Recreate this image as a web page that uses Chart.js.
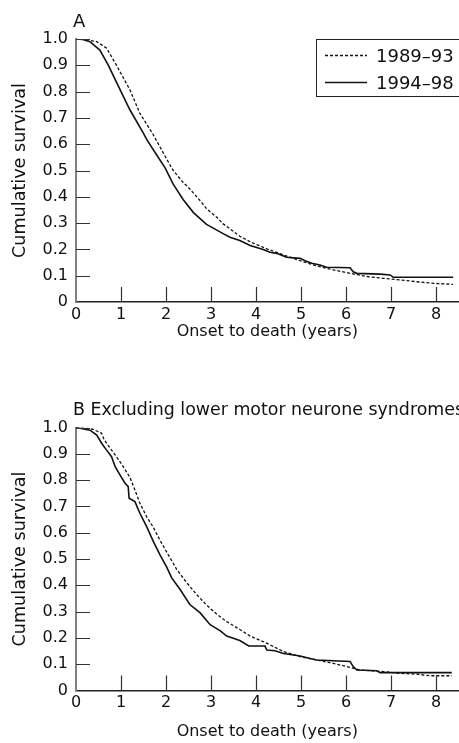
<!DOCTYPE html>
<html>
<head>
<meta charset="utf-8">
<script src="https://cdn.jsdelivr.net/npm/chart.js@4.4.1/dist/chart.umd.min.js"></script>
<style>
  html, body { margin: 0; padding: 0; background: #fff; }
  #wrap { position: relative; width: 459px; height: 743px; overflow: hidden; }
  .panel { position: absolute; left: 0; width: 459px; }
  #panelA { top: 0; height: 360px; }
  #panelB { top: 360px; height: 383px; }
</style>
</head>
<body>
<div id="wrap">
  <div class="panel" id="panelA"><canvas id="chartA"></canvas></div>
  <div class="panel" id="panelB"><canvas id="chartB"></canvas></div>
</div>
<script>
// --- données (survie cumulée vs années depuis le début) ---
const SERIES_LABELS = ['1989–93', '1994–98'];
const X_TICKS = [0, 1, 2, 3, 4, 5, 6, 7, 8];
const Y_TICK_LABELS = ['0', '0.1', '0.2', '0.3', '0.4', '0.5', '0.6', '0.7', '0.8', '0.9', '1.0'];

// Panneau A
const A_T_8993 = [0, 0.2, 0.46, 0.68, 0.9, 1.2, 1.42, 1.72, 2.0, 2.16, 2.38, 2.53, 2.76, 2.9, 3.13, 3.27, 3.42, 3.64, 3.87, 4.24, 4.61, 4.98, 5.35, 5.72, 6.09, 6.46, 6.83, 7.2, 7.57, 7.94, 8.38];
const A_S_8993 = [1.0, 0.998, 0.99, 0.965, 0.90, 0.806, 0.717, 0.635, 0.548, 0.50, 0.455, 0.43, 0.385, 0.355, 0.322, 0.297, 0.278, 0.25, 0.229, 0.202, 0.179, 0.157, 0.137, 0.122, 0.109, 0.097, 0.090, 0.084, 0.077, 0.071, 0.067];
const A_T_9498 = [0, 0.15, 0.31, 0.53, 0.72, 1.0, 1.2, 1.5, 1.57, 1.79, 1.98, 2.16, 2.38, 2.61, 2.9, 3.27, 3.42, 3.64, 3.87, 4.16, 4.31, 4.46, 4.68, 4.98, 5.09, 5.24, 5.42, 5.57, 6.09, 6.16, 6.24, 6.76, 6.98, 7.05, 8.38];
const A_S_9498 = [1.0, 0.998, 0.99, 0.958, 0.90, 0.80, 0.73, 0.641, 0.618, 0.56, 0.51, 0.448, 0.39, 0.34, 0.295, 0.26, 0.246, 0.234, 0.215, 0.200, 0.189, 0.185, 0.170, 0.166, 0.157, 0.147, 0.141, 0.132, 0.130, 0.115, 0.109, 0.106, 0.103, 0.094, 0.094];

// Panneau B (sans syndromes du motoneurone inférieur)
const B_T_8993 = [0, 0.2, 0.38, 0.57, 0.63, 0.76, 0.9, 1.05, 1.2, 1.31, 1.42, 1.57, 1.72, 1.87, 2.01, 2.24, 2.46, 2.68, 2.9, 3.13, 3.35, 3.64, 3.87, 4.24, 4.61, 4.98, 5.35, 5.72, 6.09, 6.31, 6.83, 7.2, 7.57, 7.87, 8.35];
const B_S_8993 = [1.0, 0.998, 0.993, 0.978, 0.952, 0.921, 0.889, 0.851, 0.81, 0.762, 0.712, 0.661, 0.62, 0.57, 0.528, 0.46, 0.41, 0.365, 0.325, 0.29, 0.262, 0.232, 0.207, 0.18, 0.148, 0.129, 0.116, 0.103, 0.088, 0.078, 0.072, 0.065, 0.062, 0.056, 0.056];
const B_T_9498 = [0, 0.31, 0.46, 0.57, 0.68, 0.79, 0.87, 0.98, 1.09, 1.16, 1.18, 1.31, 1.42, 1.57, 1.72, 1.87, 2.01, 2.13, 2.31, 2.53, 2.76, 2.98, 3.2, 3.35, 3.64, 3.84, 4.2, 4.24, 4.42, 4.61, 4.98, 5.2, 5.35, 6.09, 6.16, 6.24, 6.68, 6.76, 8.35];
const B_S_9498 = [1.0, 0.99, 0.971, 0.94, 0.914, 0.889, 0.851, 0.819, 0.788, 0.775, 0.731, 0.718, 0.674, 0.623, 0.566, 0.515, 0.471, 0.427, 0.385, 0.327, 0.295, 0.250, 0.228, 0.207, 0.19, 0.169, 0.169, 0.154, 0.151, 0.141, 0.131, 0.122, 0.116, 0.110, 0.091, 0.078, 0.075, 0.068, 0.068];

const FONT = 'DejaVu Sans';
const INK = '#111';

function toPoints(ts, ss) {
    return ts.map((t, i) => ({ x: t, y: ss[i] }));
}

// petites graduations tournées vers l'intérieur
const inwardTicks = {
    id: 'inwardTicks',
    afterDatasetsDraw(chart) {
        const { ctx, chartArea } = chart;
        const xs = chart.scales.x, ys = chart.scales.y;
        ctx.save();
        ctx.strokeStyle = '#333';
        ctx.lineWidth = 1.2;
        ctx.beginPath();
        xs.ticks.forEach(t => {
            if (t.value === 0) return;
            const px = Math.round(xs.getPixelForValue(t.value)) + 0.5;
            ctx.moveTo(px, chartArea.bottom);
            ctx.lineTo(px, chartArea.bottom - 15);
        });
        ys.ticks.forEach(t => {
            if (t.value === 0) return;
            const py = Math.round(ys.getPixelForValue(t.value)) + 0.5;
            ctx.moveTo(chartArea.left, py);
            ctx.lineTo(chartArea.left + 14, py);
        });
        ctx.stroke();
        ctx.restore();
    }
};

// titre du panneau (A / B ...)
const panelTitle = {
    id: 'panelTitle',
    afterDraw(chart, args, opts) {
        if (!opts.text) return;
        const ctx = chart.ctx;
        ctx.save();
        ctx.font = opts.size + 'px "' + FONT + '"';
        ctx.fillStyle = INK;
        ctx.textBaseline = 'alphabetic';
        ctx.textAlign = 'left';
        ctx.fillText(opts.text, opts.x, opts.y);
        ctx.restore();
    }
};

// légende encadrée en haut à droite
const boxLegend = {
    id: 'boxLegend',
    afterDraw(chart, args, opts) {
        if (!opts.show) return;
        const ctx = chart.ctx;
        ctx.save();
        ctx.strokeStyle = '#222';
        ctx.lineWidth = 1;
        ctx.strokeRect(316.5, 39.5, 160, 57);
        ctx.font = '18px "' + FONT + '"';
        ctx.fillStyle = INK;
        ctx.textBaseline = 'alphabetic';
        chart.data.datasets.forEach((ds, i) => {
            const y = 55.5 + i * 27;
            ctx.beginPath();
            ctx.setLineDash(ds.borderDash || []);
            ctx.lineWidth = ds.borderWidth;
            ctx.strokeStyle = ds.borderColor;
            ctx.moveTo(325, y);
            ctx.lineTo(367, y);
            ctx.stroke();
            ctx.setLineDash([]);
            ctx.fillText(ds.label, 376, y + 6.5);
        });
        ctx.restore();
    }
};

function makeChart(canvasId, cfg) {
    const ctx = document.getElementById(canvasId).getContext('2d');
    return new Chart(ctx, {
        type: 'line',
        data: {
            datasets: [
                {
                    label: SERIES_LABELS[0],
                    data: toPoints(cfg.t1, cfg.s1),
                    borderColor: '#111',
                    borderWidth: 1.3,
                    borderDash: [3, 2],
                    pointRadius: 0,
                    tension: 0,
                    fill: false
                },
                {
                    label: SERIES_LABELS[1],
                    data: toPoints(cfg.t2, cfg.s2),
                    borderColor: '#111',
                    borderWidth: 1.6,
                    pointRadius: 0,
                    tension: 0,
                    fill: false
                }
            ]
        },
        options: {
            responsive: true,
            maintainAspectRatio: false,
            animation: false,
            layout: { padding: { top: cfg.top, right: 0.5, bottom: 0, left: 0 } },
            plugins: {
                legend: { display: false },
                tooltip: { enabled: false },
                panelTitle: { text: cfg.title, x: 73, y: cfg.titleY, size: cfg.titleSize },
                boxLegend: { show: cfg.legend }
            },
            scales: {
                x: {
                    type: 'linear',
                    min: 0,
                    max: 8.5,
                    afterBuildTicks: s => { s.ticks = X_TICKS.map(v => ({ value: v })); },
                    afterFit: s => { s.height = cfg.xHeight; },
                    grid: { drawOnChartArea: false, drawTicks: false },
                    border: { display: true, color: '#222', width: 1.5 },
                    ticks: {
                        autoSkip: false,
                        maxRotation: 0,
                        padding: 3,
                        color: INK,
                        font: { family: FONT, size: 16 }
                    },
                    title: {
                        display: true,
                        text: 'Onset to death (years)',
                        color: INK,
                        font: { family: FONT, size: 16 },
                        padding: { top: 0, bottom: cfg.xTitlePad }
                    }
                },
                y: {
                    min: 0,
                    max: 1,
                    afterBuildTicks: s => { s.ticks = Y_TICK_LABELS.map((l, i) => ({ value: i / 10 })); },
                    afterFit: s => { s.width = 76; },
                    grid: { drawOnChartArea: false, drawTicks: false },
                    border: { display: true, color: '#808080', width: 2 },
                    ticks: {
                        padding: 8,
                        color: INK,
                        font: { family: FONT, size: 16 },
                        callback: (v, i) => Y_TICK_LABELS[Math.round(v * 10)]
                    },
                    title: {
                        display: true,
                        text: 'Cumulative survival',
                        color: INK,
                        font: { family: FONT, size: 17.6 },
                        padding: { top: 10, bottom: 0 }
                    }
                }
            }
        },
        plugins: [inwardTicks, panelTitle, boxLegend]
    });
}

makeChart('chartA', {
    t1: A_T_8993, s1: A_S_8993, t2: A_T_9498, s2: A_S_9498,
    title: 'A', titleY: 26.5, titleSize: 18, legend: true,
    top: 39, xHeight: 58, xTitlePad: 18.4
});

makeChart('chartB', {
    t1: B_T_8993, s1: B_S_8993, t2: B_T_9498, s2: B_S_9498,
    title: 'B Excluding lower motor neurone syndromes', titleY: 55, titleSize: 17.4, legend: false,
    top: 67.5, xHeight: 52.5, xTitlePad: 1.9
});
</script>
</body>
</html>
